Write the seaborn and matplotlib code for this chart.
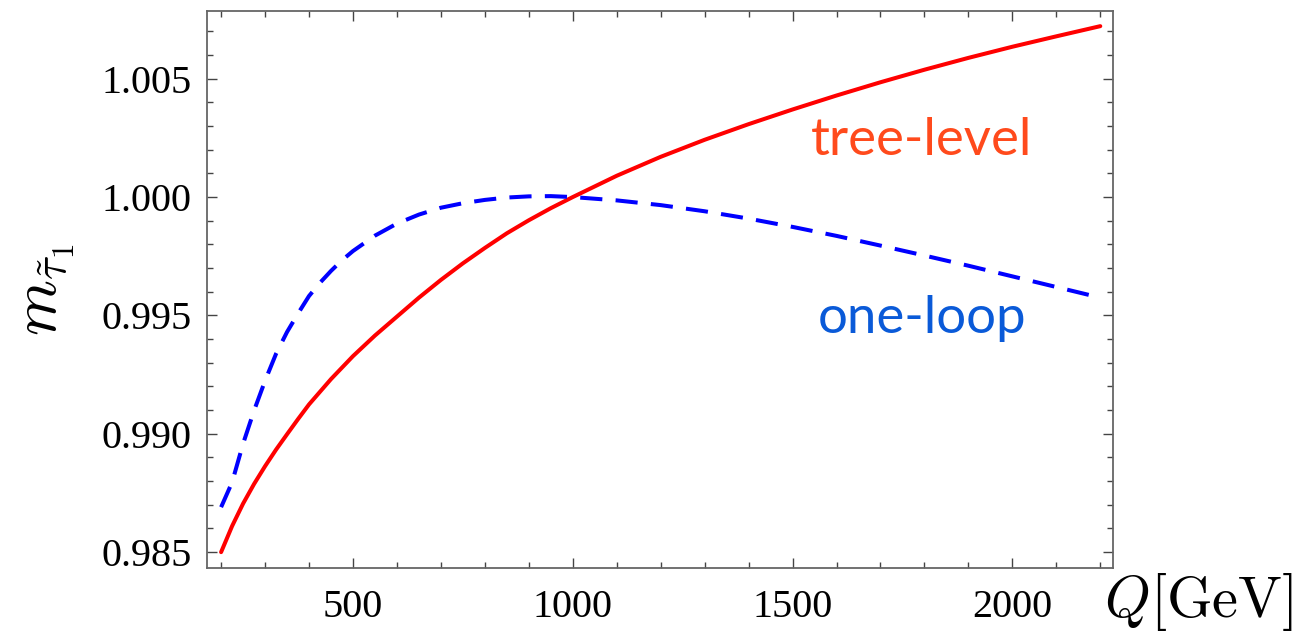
import numpy as np
import pandas as pd
import matplotlib
matplotlib.use("Agg")
import matplotlib.pyplot as plt
import seaborn as sns
from matplotlib.ticker import MultipleLocator

# Data
q_tree = [200, 225, 250, 275, 300, 325, 350, 375, 400, 450, 500, 550, 600, 650,
          700, 750, 800, 850, 900, 950, 1000, 1100, 1200, 1300, 1400, 1500, 1600,
          1700, 1800, 1900, 2000, 2100, 2200]
m_tree = [0.98500, 0.98610, 0.98705, 0.98788, 0.98863, 0.98933, 0.98998, 0.99062,
          0.99124, 0.99231, 0.99328, 0.99415, 0.99495, 0.99575, 0.99650, 0.99720,
          0.99785, 0.99847, 0.99902, 0.99953, 1.00000, 1.00090, 1.00170, 1.00242,
          1.00308, 1.00370, 1.00429, 1.00485, 1.00538, 1.00588, 1.00635, 1.00679,
          1.00722]

q_loop = [200, 225, 250, 275, 300, 325, 350, 375, 400, 425, 450, 475, 500, 550,
          600, 650, 700, 750, 800, 850, 900, 950, 1000, 1100, 1200, 1300, 1400,
          1500, 1600, 1700, 1800, 1900, 2000, 2100, 2200]
m_loop = [0.98690, 0.98795, 0.98958, 0.99098, 0.99224, 0.99338, 0.99430, 0.99508,
          0.99582, 0.99638, 0.99688, 0.99733, 0.99772, 0.99837, 0.99888, 0.99926,
          0.99955, 0.99974, 0.99988, 0.99998, 1.00003, 1.00004, 1.00000, 0.99986,
          0.99966, 0.99940, 0.99909, 0.99874, 0.99836, 0.99795, 0.99753, 0.99710,
          0.99665, 0.99620, 0.99575]

x_ticks = [500, 1000, 1500, 2000]
y_ticks = [0.985, 0.990, 0.995, 1.000, 1.005]
y_tick_labels = ["0.985", "0.990", "0.995", "1.000", "1.005"]

df_tree = pd.DataFrame({"Q": q_tree, "m": m_tree})
df_loop = pd.DataFrame({"Q": q_loop, "m": m_loop})

sns.set_style("ticks")
plt.rcParams["mathtext.fontset"] = "cm"
plt.rcParams["font.family"] = ["Liberation Serif", "DejaVu Serif"]

fig = plt.figure(figsize=(12.98, 6.36), dpi=100)
ax = fig.add_axes([0.1595, 0.1069, 0.698, 0.8758])

sns.lineplot(data=df_tree, x="Q", y="m", ax=ax, color="#ff0000", lw=2.9,
             estimator=None, sort=False)
sns.lineplot(data=df_loop, x="Q", y="m", ax=ax, color="#0000ff", lw=2.9,
             estimator=None, sort=False, linestyle=(0, (5.5, 3.3)))

ax.set_xlim(168, 2229)
ax.set_ylim(0.98433, 1.00786)
ax.set_xticks(x_ticks)
ax.set_xticklabels([str(t) for t in x_ticks])
ax.set_yticks(y_ticks)
ax.set_yticklabels(y_tick_labels)
ax.xaxis.set_minor_locator(MultipleLocator(100))
ax.yaxis.set_minor_locator(MultipleLocator(0.001))

for s in ax.spines.values():
    s.set_color("#666666")
    s.set_linewidth(1.3)
ax.tick_params(which="both", direction="in", top=True, right=True,
               color="#444444", width=1.0, labelcolor="black")
ax.tick_params(which="major", length=7, labelsize=29, pad=11)
ax.tick_params(which="minor", length=4.5)
ax.tick_params(axis="x", which="major", pad=15)

ax.set_xlabel("")
ax.set_ylabel("")
fig.text(0.037, 0.545, r"$m_{\tilde{\tau}_1}$", rotation=90, fontsize=46,
         ha="center", va="center", color="black")
fig.text(0.9965, 0.030, r"$Q[\mathrm{GeV}]$", fontsize=42, ha="right",
         va="baseline", color="black")

ax.text(1794, 1.00240, "tree-level", color="#ff4a1c", fontsize=38,
        family=["Lato", "DejaVu Sans"], ha="center", va="center")
ax.text(1794, 0.99488, "one-loop", color="#0a5ad8", fontsize=38,
        family=["Lato", "DejaVu Sans"], ha="center", va="center")

fig.savefig("out.png", dpi=100)
